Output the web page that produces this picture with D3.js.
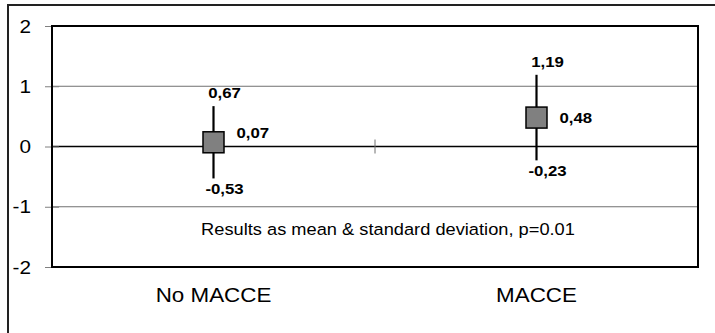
<!DOCTYPE html>
<html>
<head>
<meta charset="utf-8">
<script src="https://cdn.jsdelivr.net/npm/d3@7"></script>
<style>
  body { margin: 0; background: #fff; }
  text { font-family: Arial, "Liberation Sans", sans-serif; fill: #000; }
</style>
</head>
<body>
<svg id="chart" width="715" height="333"></svg>
<script>
const categories = ['No MACCE', 'MACCE'];
const means = [0.07, 0.48];
const upper = [0.67, 1.19];
const lower = [-0.53, -0.23];
const yTicks = [-2, -1, 0, 1, 2];
const note = 'Results as mean & standard deviation, p=0.01';

const plot = { left: 52, right: 698, top: 26, bottom: 267 };
const stretch = 1.12; // source chart text is a little wide
const svg = d3.select('#chart');

const x = d3.scaleBand().domain(categories).range([plot.left, plot.right]);
const y = d3.scaleLinear().domain([-2, 2]).range([plot.bottom, plot.top]);
const cx = c => x(c) + x.bandwidth() / 2;
const locale = d3.formatLocale({ decimal: ',', thousands: '.', grouping: [3], currency: ['', ''], minus: '-' });
const fmt = locale.format('.2f');

function label(g, tx, ty, str, opts) {
  return g.append('text')
    .attr('transform', `translate(${tx},${ty}) scale(${stretch},1)`)
    .attr('text-anchor', opts.anchor || 'middle')
    .attr('font-size', opts.size)
    .attr('font-weight', opts.weight || 'normal')
    .attr('dy', opts.dy || 0)
    .text(str);
}

// outer frame
svg.append('rect')
  .attr('x', 8).attr('y', 5).attr('width', 720).attr('height', 340)
  .attr('fill', 'none').attr('stroke', '#222').attr('stroke-width', 2);

// gridlines
svg.append('g').selectAll('line')
  .data(yTicks.filter(d => d !== 0 && Math.abs(d) !== 2))
  .join('line')
  .attr('x1', plot.left).attr('x2', plot.right)
  .attr('y1', d => y(d)).attr('y2', d => y(d))
  .attr('stroke', '#707070').attr('stroke-width', 1);

// zero line
svg.append('line')
  .attr('x1', plot.left).attr('x2', plot.right)
  .attr('y1', y(0)).attr('y2', y(0))
  .attr('stroke', '#000').attr('stroke-width', 1.5);

// category divider tick on zero line
svg.append('g').selectAll('line')
  .data(categories.slice(1))
  .join('line')
  .attr('x1', d => x(d)).attr('x2', d => x(d))
  .attr('y1', y(0) - 7).attr('y2', y(0) + 7)
  .attr('stroke', '#707070').attr('stroke-width', 1);

// y axis ticks
const yAxis = svg.append('g')
  .attr('transform', `translate(${plot.left + 7},0)`)
  .call(d3.axisLeft(y).tickValues(yTicks).tickSize(14).tickFormat(''));
yAxis.select('.domain').remove();
yAxis.selectAll('.tick line').attr('stroke', '#808080');
yTicks.forEach(t => {
  label(svg, 31, y(t), locale.format('d')(t), { anchor: 'end', size: 18.5, dy: '0.36em' });
});

// plot frame
svg.append('rect')
  .attr('x', plot.left).attr('y', plot.top)
  .attr('width', plot.right - plot.left).attr('height', plot.bottom - plot.top)
  .attr('fill', 'none').attr('stroke', '#000').attr('stroke-width', 2);

// error bars and markers
const marks = svg.append('g');
categories.forEach((c, i) => {
  const px = cx(c);
  marks.append('line')
    .attr('x1', px).attr('x2', px)
    .attr('y1', y(upper[i])).attr('y2', y(lower[i]))
    .attr('stroke', '#000').attr('stroke-width', 2.2);
  marks.append('rect')
    .attr('x', px - 10.5).attr('y', y(means[i]) - 10.5)
    .attr('width', 21).attr('height', 21)
    .attr('fill', '#808080').attr('stroke', '#000').attr('stroke-width', 1.5);

  label(marks, px + 11, y(upper[i]) - 8, fmt(upper[i]), { size: 15, weight: 'bold' });
  label(marks, px + 11, y(lower[i]) + 16, fmt(lower[i]), { size: 15, weight: 'bold' });
  // keep the mean label clear of the zero line
  const shift = Math.abs(means[i]) < 0.2 ? -10 : 0;
  label(marks, px + 23, y(means[i]) + shift, fmt(means[i]), { anchor: 'start', size: 15, weight: 'bold', dy: '0.36em' });
});

// note
label(svg, 388, 235, note, { size: 16.3 });

// category labels
categories.forEach(c => label(svg, cx(c), 301.5, c, { size: 20 }));
</script>
</body>
</html>
